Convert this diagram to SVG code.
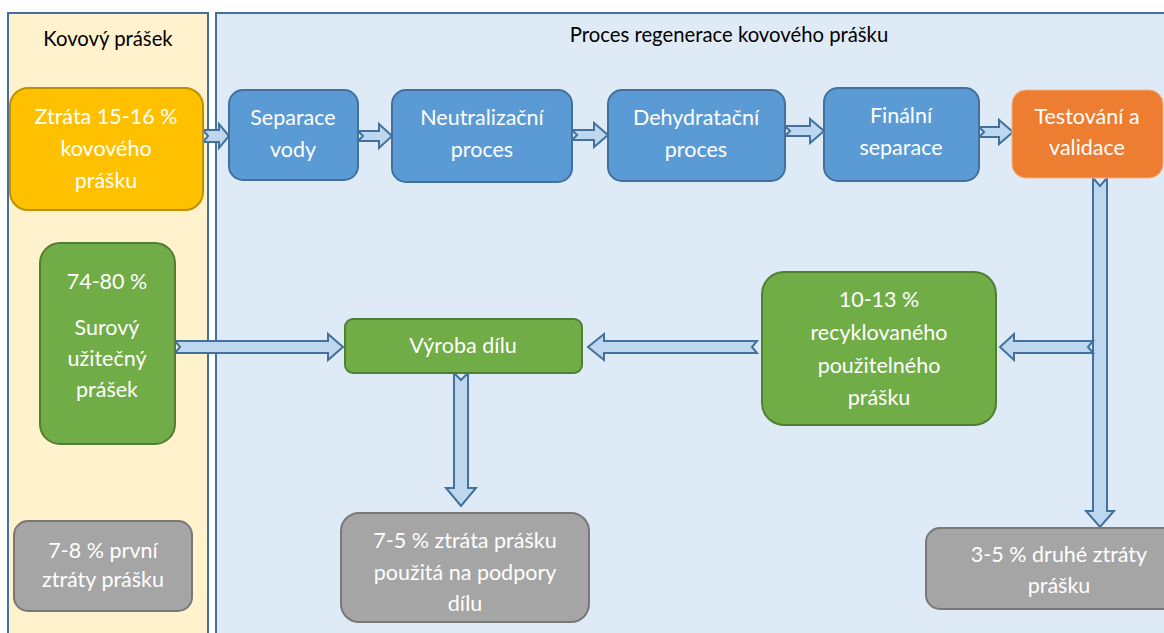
<svg xmlns="http://www.w3.org/2000/svg" width="1164" height="633" viewBox="0 0 1164 633">
<style>
text{font-family:Lato,"Open Sans","Liberation Sans",sans-serif;font-size:21.5px;text-anchor:middle;fill:#fff}
.t{fill:#000;font-size:20.3px}
.blue{fill:#5B9BD5;stroke:#41719C;stroke-width:2}
.green{fill:#70AD47;stroke:#507E32;stroke-width:2}
.gray{fill:#A5A5A5;stroke:#787878;stroke-width:2}
.arr{fill:#BDD7EE;stroke:#41719C;stroke-width:2;stroke-linejoin:miter}
</style>
<rect width="1164" height="633" fill="#fff"/>
<g id="container-kovovy">
<rect x="8" y="13" width="200" height="640" fill="#FFF2CC" stroke="#41719C" stroke-width="2"/>
<text class="t" x="108" y="46">Kovový prášek</text>
</g>
<g id="container-proces">
<rect x="216" y="13" width="970" height="640" fill="#DEEBF7" stroke="#41719C" stroke-width="2"/>
<text class="t" x="729" y="42">Proces regenerace kovového prášku</text>
</g>
<g id="connectors">
<path class="arr" d="M203,130 L219,130 L219,124 L229,136 L219,148 L219,142 L203,142 L208,136 Z"/>
<path class="arr" d="M358,131 L379,131 L379,124 L392,136 L379,148 L379,141 L358,141 L363,136 Z"/>
<path class="arr" d="M572,130 L594,130 L594,123 L608,135 L594,147 L594,140 L572,140 L577,135 Z"/>
<path class="arr" d="M785,126 L810,126 L810,119 L824,131 L810,143 L810,136 L785,136 L790,131 Z"/>
<path class="arr" d="M979,127 L999,127 L999,120 L1013,132 L999,144 L999,137 L979,137 L984,132 Z"/>
<path class="arr" d="M1093,178 L1100,186 L1107,178 L1107,511 L1114,511 L1100,527 L1086,511 L1093,511 Z"/>
<path class="arr" d="M1093,341 L1014,341 L1014,334 L1000,347 L1014,360 L1014,353 L1093,353 L1088,347 Z"/>
<path class="arr" d="M757,341 L604,341 L604,334 L588,347 L604,360 L604,353 L757,353 L752,347 Z"/>
<path class="arr" d="M175,341 L328,341 L328,334 L343,347 L328,360 L328,353 L175,353 L180,347 Z"/>
<path class="arr" d="M454,373 L461,380 L468,373 L468,488 L476,488 L461,506 L446,488 L454,488 Z"/>
</g>
<g id="ztrata">
<rect x="10" y="88" width="193" height="122" rx="18" fill="#FFC000" stroke="#BF9000" stroke-width="2"/>
<text x="106" y="124">Ztráta 15-16 %</text>
<text x="106" y="156">kovového</text>
<text x="106" y="188">prášku</text>
</g>
<g id="separace-vody">
<rect class="blue" x="229" y="90" width="129" height="90" rx="14"/>
<text x="293" y="125">Separace</text>
<text x="293" y="157">vody</text>
</g>
<g id="neutralizacni">
<rect class="blue" x="392" y="90" width="180" height="92" rx="14"/>
<text x="482" y="125">Neutralizační</text>
<text x="482" y="157">proces</text>
</g>
<g id="dehydratacni">
<rect class="blue" x="608" y="90" width="177" height="91" rx="14"/>
<text x="696" y="125">Dehydratační</text>
<text x="696" y="157">proces</text>
</g>
<g id="finalni">
<rect class="blue" x="824" y="88" width="155" height="93" rx="14"/>
<text x="901" y="123">Finální</text>
<text x="901" y="155">separace</text>
</g>
<g id="testovani">
<rect x="1012" y="90" width="151" height="88" rx="14" fill="#ED7D31" stroke="#F4B183" stroke-width="1"/>
<text x="1087" y="124">Testování a</text>
<text x="1087" y="155">validace</text>
</g>
<g id="surovy">
<rect class="green" x="40" y="243" width="135" height="201" rx="20"/>
<text x="107" y="289">74-80 %</text>
<text x="107" y="335">Surový</text>
<text x="107" y="366">užitečný</text>
<text x="107" y="397">prášek</text>
</g>
<g id="vyroba">
<rect class="green" x="345" y="319" width="237" height="54" rx="8"/>
<text x="463" y="353">Výroba dílu</text>
</g>
<g id="recyklovany">
<rect class="green" x="762" y="272" width="234" height="153" rx="22"/>
<text x="879" y="307">10-13 %</text>
<text x="879" y="340">recyklovaného</text>
<text x="879" y="373">použitelného</text>
<text x="879" y="405">prášku</text>
</g>
<g id="ztrata-prvni">
<rect class="gray" x="14" y="521" width="178" height="90" rx="14"/>
<text x="103" y="558">7-8 % první</text>
<text x="103" y="587">ztráty prášku</text>
</g>
<g id="ztrata-podpory">
<rect class="gray" x="341" y="513" width="248" height="109" rx="18"/>
<text x="465" y="548">7-5 % ztráta prášku</text>
<text x="465" y="580">použitá na podpory</text>
<text x="465" y="611">dílu</text>
</g>
<g id="ztrata-druhe">
<rect class="gray" x="926" y="528" width="264" height="81" rx="14"/>
<text x="1059" y="562">3-5 % druhé ztráty</text>
<text x="1059" y="593">prášku</text>
</g>
</svg>
